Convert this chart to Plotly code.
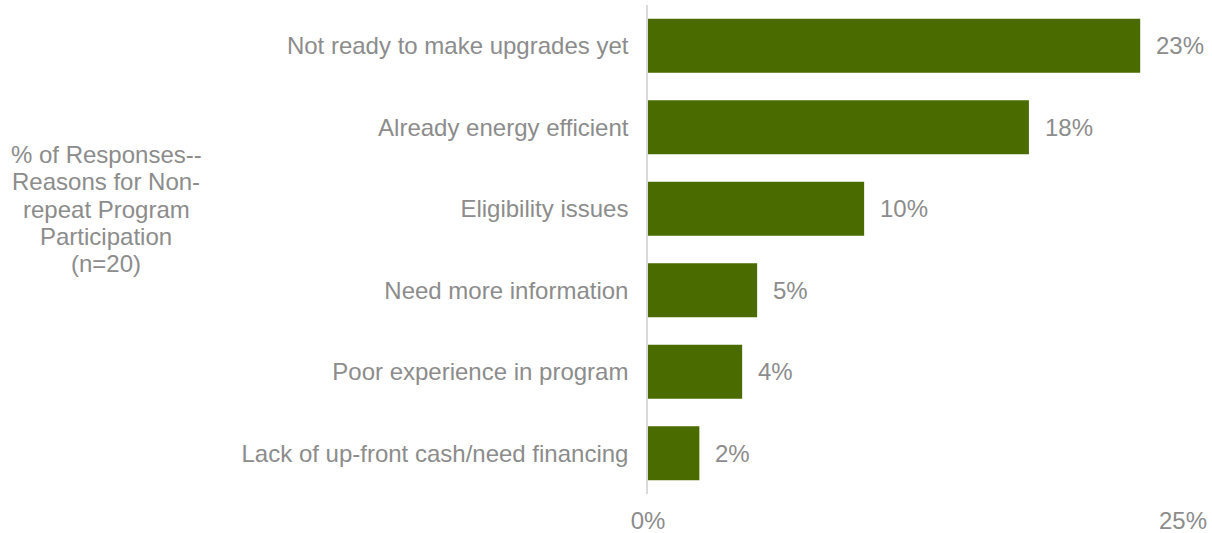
import plotly.graph_objects as go

categories = [
    "Not ready to make upgrades yet",
    "Already energy efficient",
    "Eligibility issues",
    "Need more information",
    "Poor experience in program",
    "Lack of up-front cash/need financing",
]
values = [23.0, 17.8, 10.1, 5.1, 4.4, 2.4]
x_tick_values = [0, 25]
x_tick_labels = ["0%", "25%"]
axis_title_lines = [
    "% of Responses--",
    "Reasons for Non-",
    "repeat Program",
    "Participation",
    "(n=20)",
]

GRAY = "#8c8c8c"
BAR = "#4a6b00"
FONT = "Liberation Sans, Arial, sans-serif"
FS = 24

# plot area in pixels
L, R, T, B = 648, 1183, 5, 494
W, H = 1212, 533

fig = go.Figure(
    go.Bar(
        x=values,
        y=categories,
        orientation="h",
        marker=dict(color=BAR, line=dict(width=0)),
        hoverinfo="x+y",
    )
)

for v, c in zip(values, categories):
    fig.add_annotation(
        x=v, y=c, xref="x", yref="y",
        text=f"{v:.0f}%", showarrow=False,
        xanchor="left", xshift=14,
        font=dict(family=FONT, size=FS, color=GRAY),
    )

# multi-line y-axis title with tight line spacing
title_cx, title_cy, line_gap = 106, 209, 27.2
n = len(axis_title_lines)
for i, line in enumerate(axis_title_lines):
    py = title_cy + (i - (n - 1) / 2) * line_gap
    fig.add_annotation(
        x=(title_cx - L) / (R - L), y=(B - py) / (B - T),
        xref="paper", yref="paper",
        text=line, showarrow=False,
        xanchor="center", yanchor="middle",
        font=dict(family=FONT, size=FS, color=GRAY),
    )

fig.update_layout(
    width=W,
    height=H,
    margin=dict(l=L, r=W - R, t=T, b=H - B, autoexpand=False),
    paper_bgcolor="white",
    plot_bgcolor="white",
    bargap=0.34,
    showlegend=False,
    font=dict(family=FONT, size=FS, color=GRAY),
    xaxis=dict(
        range=[0, 25],
        tickvals=x_tick_values,
        ticktext=x_tick_labels,
        showgrid=False,
        zeroline=False,
        showline=False,
        ticks="",
        ticklabelstandoff=10,
        automargin=False,
        tickfont=dict(family=FONT, size=FS, color=GRAY),
        fixedrange=True,
    ),
    yaxis=dict(
        categoryorder="array",
        categoryarray=categories[::-1],
        showgrid=False,
        zeroline=False,
        showline=True,
        linecolor="#d9d9d9",
        linewidth=1.5,
        ticks="",
        ticklabelstandoff=13,
        automargin=False,
        tickfont=dict(family=FONT, size=FS, color=GRAY),
        fixedrange=True,
    ),
)

fig.write_html(
    "out.html",
    config={"displayModeBar": False},
    post_script="document.body.style.margin='0';document.body.style.overflow='hidden';",
)
